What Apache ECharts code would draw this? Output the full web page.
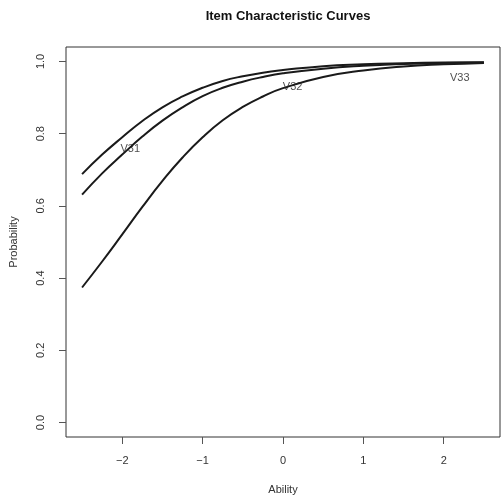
<!DOCTYPE html>
<html>
<head>
<meta charset="utf-8">
<script src="https://cdn.jsdelivr.net/npm/echarts@6/dist/echarts.min.js"></script>
<style>
html,body{margin:0;padding:0;background:#fff;}
#main{width:501px;height:502px;}
</style>
</head>
<body>
<div id="main"></div>
<script>
// Ability values where the curves were read
const ability = [-2.5, -2.25, -2, -1.75, -1.5, -1.25, -1, -0.75, -0.5, -0.25, 0, 0.5, 1, 1.5, 2, 2.5];
// Probability
const v33 = [0.688, 0.742, 0.790, 0.835, 0.873, 0.903, 0.927, 0.946, 0.959, 0.969, 0.976, 0.987, 0.992, 0.995, 0.997, 0.998];
const v31 = [0.631, 0.690, 0.742, 0.792, 0.836, 0.873, 0.904, 0.927, 0.944, 0.957, 0.967, 0.980, 0.988, 0.993, 0.996, 0.997];
const v32 = [0.374, 0.446, 0.521, 0.597, 0.669, 0.734, 0.790, 0.837, 0.874, 0.903, 0.926, 0.957, 0.975, 0.986, 0.992, 0.996];
// Curve labels
const labelNames = ['V31', 'V32', 'V33'];
const labelX = [-1.90, 0.12, 2.20];
const labelY = [0.757, 0.930, 0.955];
// Tick labels
const xTicks = [-2, -1, 0, 1, 2];
const yTicks = [0, 0.2, 0.4, 0.6, 0.8, 1.0];

const pairs = ys => ability.map((x, i) => [x, ys[i]]);
const font = '"Liberation Sans", Arial, Helvetica, sans-serif';
const lineStyle = { color: '#1a1a1a', width: 2 };

const chart = echarts.init(document.getElementById('main'), null, { renderer: 'canvas' });
chart.setOption({
  animation: false,
  backgroundColor: '#ffffff',
  title: {
    text: 'Item Characteristic Curves',
    left: 283, top: 5, textAlign: 'center',
    textStyle: { fontFamily: font, fontSize: 13, fontWeight: 'bold', color: '#111' }
  },
  grid: {
    left: 66, right: 1, top: 47, bottom: 65,
    outerBoundsMode: 'none', containLabel: false,
    show: true, borderColor: '#333', borderWidth: 1, backgroundColor: 'transparent'
  },
  xAxis: {
    type: 'value', min: -2.7, max: 2.7,
    name: 'Ability', nameLocation: 'middle', nameGap: 47,
    nameTextStyle: { fontFamily: font, fontSize: 11, color: '#333' },
    axisLine: { show: false, onZero: false },
    splitLine: { show: false },
    axisTick: { show: true, inside: false, length: 7, customValues: xTicks, lineStyle: { color: '#555' } },
    axisLabel: { customValues: xTicks, margin: 18, fontFamily: font, fontSize: 11, color: '#333',
      formatter: v => (v < 0 ? '\u2212' + Math.abs(v) : String(v)) }
  },
  yAxis: {
    type: 'value', min: -0.04, max: 1.04,
    name: 'Probability', nameLocation: 'middle', nameGap: 47, nameRotate: 90,
    nameTextStyle: { fontFamily: font, fontSize: 11, color: '#333' },
    axisLine: { show: false, onZero: false },
    splitLine: { show: false },
    axisTick: { show: true, inside: false, length: 7, customValues: yTicks, lineStyle: { color: '#555' } },
    axisLabel: { customValues: yTicks, rotate: 90, margin: 20, fontFamily: font, fontSize: 11, color: '#333',
      formatter: v => v.toFixed(1) }
  },
  series: [
    { name: 'V33', type: 'line', data: pairs(v33), smooth: true, showSymbol: false, lineStyle: lineStyle, z: 3 },
    { name: 'V31', type: 'line', data: pairs(v31), smooth: true, showSymbol: false, lineStyle: lineStyle, z: 3 },
    { name: 'V32', type: 'line', data: pairs(v32), smooth: true, showSymbol: false, lineStyle: lineStyle, z: 3 },
    {
      type: 'scatter', symbolSize: 1, itemStyle: { color: 'transparent' }, z: 4,
      data: labelNames.map((n, i) => ({ value: [labelX[i], labelY[i]], name: n })),
      label: { show: true, position: 'inside', formatter: p => p.name,
        fontFamily: font, fontSize: 11, color: '#222' }
    }
  ]
});
</script>
</body>
</html>
